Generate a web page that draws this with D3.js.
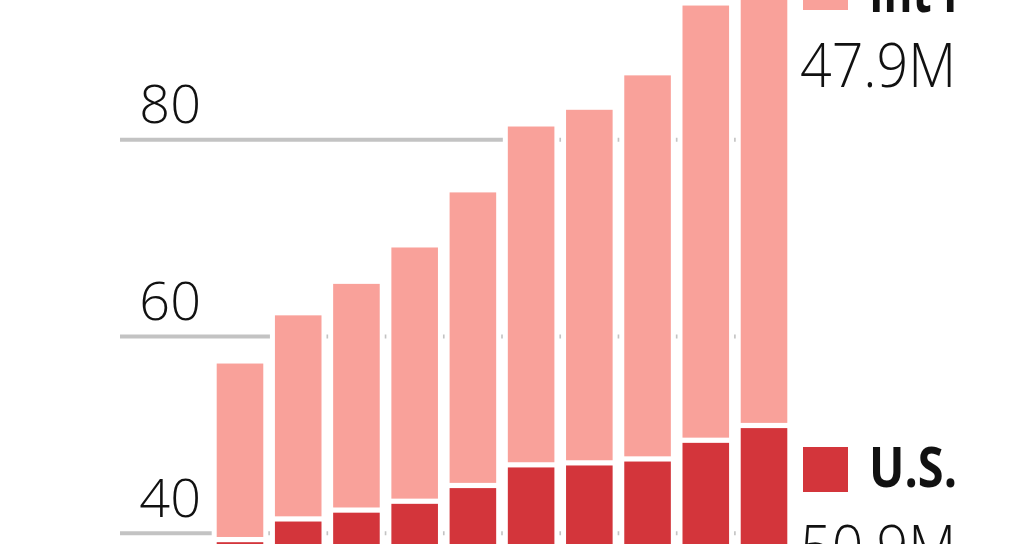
<!DOCTYPE html>
<html>
<head>
<meta charset="utf-8">
<script src="https://cdn.jsdelivr.net/npm/d3@7"></script>
<style>
  html, body { margin: 0; padding: 0; background: #fff; }
  svg { display: block; }
  text { font-family: "Open Sans", "Noto Sans", sans-serif; }
</style>
</head>
<body>
<svg id="chart" width="1036" height="544"></svg>
<script>
// ---- data (millions) ----
const years = ["2010", "2011", "2012", "2013", "2014", "2015", "2016", "2017", "2018", "2019"];
const usValues = [39.3, 41.4, 42.3, 43.2, 44.8, 46.9, 47.1, 47.5, 49.4, 50.9];
const intlValues = [17.9, 20.7, 23.0, 25.8, 29.8, 34.4, 35.9, 39.0, 44.2, 47.9];
const tickValues = [40, 60, 80];
const seriesNames = ["U.S.", "Int'l"];
const legendValues = ["50.9M", "47.9M"];

const colorUS = "#d3353b";
const colorIntl = "#f9a19a";

const svg = d3.select("#chart");

const x = d3.scaleBand()
  .domain(years)
  .range([216.7, 787.3])
  .paddingInner(0.2)
  .paddingOuter(0);

const y = d3.scaleLinear()
  .domain([0, 100])
  .range([926.1, -57.4]);

const gridLeft = 120;
const gridRight = x.range()[1];

// gridlines + tick labels
const axis = d3.axisLeft(y)
  .tickValues(tickValues)
  .tickSize(-(gridRight - gridLeft))
  .tickFormat(d3.format("d"));

const gAxis = svg.append("g")
  .attr("transform", `translate(${gridLeft},0)`)
  .call(axis);
gAxis.select(".domain").remove();
gAxis.selectAll(".tick line")
  .attr("stroke", "#c3c3c3")
  .attr("stroke-width", 4);
gAxis.selectAll(".tick text")
  .attr("x", 201 - gridLeft)
  .attr("y", -16.5)
  .attr("dy", 0)
  .attr("text-anchor", "end")
  .attr("fill", "#111")
  .style("font-family", '"Open Sans", "Noto Sans", sans-serif')
  .style("font-weight", 300)
  .style("font-size", "54px");

// stacked data
const stackData = years.map((yr, i) => ({ year: yr, us: usValues[i], intl: intlValues[i] }));
const stack = d3.stack().keys(["us", "intl"]);
const series = stack(stackData);

// white masks behind bars (hide gridlines except a dot in each gap)
svg.append("g")
  .selectAll("rect")
  .data(stackData)
  .join("rect")
  .attr("x", d => x(d.year) - 5)
  .attr("width", x.bandwidth() + 10)
  .attr("y", d => y(d.us + d.intl) - 3)
  .attr("height", d => y(0) - y(d.us + d.intl) + 3)
  .attr("fill", "#fff");

const gap = 2.6;
const colors = { us: colorUS, intl: colorIntl };
svg.append("g")
  .selectAll("g")
  .data(series)
  .join("g")
  .attr("fill", s => colors[s.key])
  .selectAll("rect")
  .data(s => s.map(d => ({ key: s.key, d })))
  .join("rect")
  .attr("x", o => x(o.d.data.year))
  .attr("width", x.bandwidth())
  .attr("y", o => y(o.d[1]) + (o.key === "us" ? gap : 0))
  .attr("height", o => {
    const top = y(o.d[1]) + (o.key === "us" ? gap : 0);
    const bottom = y(o.d[0]) - (o.key === "intl" ? gap : 0);
    return Math.max(0, bottom - top);
  });

// legend
const legend = svg.append("g");
// Int'l
legend.append("rect").attr("x", 803).attr("y", -35).attr("width", 45).attr("height", 45).attr("fill", colorIntl);
legend.append("text").attr("x", 869).attr("y", 12)
  .attr("font-weight", "bold").attr("font-size", 56).attr("fill", "#111")
  .attr("textLength", 88).attr("lengthAdjust", "spacingAndGlyphs")
  .text(seriesNames[1]);
legend.append("text").attr("x", 800).attr("y", 87)
  .attr("font-size", 61).attr("font-weight", 300).attr("fill", "#111")
  .attr("textLength", 156).attr("lengthAdjust", "spacingAndGlyphs")
  .text(legendValues[1]);
// U.S.
legend.append("rect").attr("x", 803).attr("y", 447).attr("width", 45).attr("height", 45).attr("fill", colorUS);
legend.append("text").attr("x", 869).attr("y", 487)
  .attr("font-weight", "bold").attr("font-size", 56).attr("fill", "#111")
  .attr("textLength", 88).attr("lengthAdjust", "spacingAndGlyphs")
  .text(seriesNames[0]);
legend.append("text").attr("x", 800).attr("y", 569)
  .attr("font-size", 61).attr("font-weight", 300).attr("fill", "#111")
  .attr("textLength", 156).attr("lengthAdjust", "spacingAndGlyphs")
  .text(legendValues[0]);
</script>
</body>
</html>
